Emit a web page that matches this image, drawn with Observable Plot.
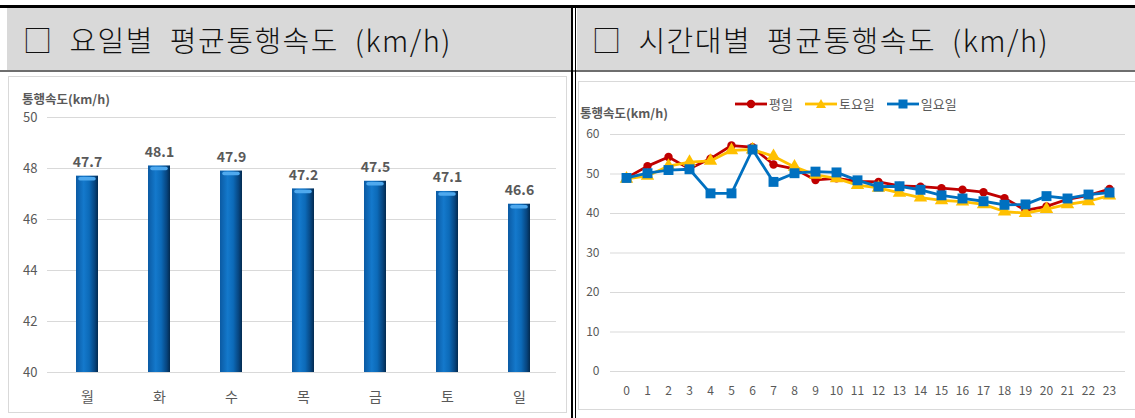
<!DOCTYPE html>
<html><head><meta charset="utf-8">
<script src="https://cdn.jsdelivr.net/npm/d3@7"></script>
<script src="https://cdn.jsdelivr.net/npm/@observablehq/plot@0.6"></script>
<style>
body{margin:0;background:#fff;width:1135px;height:418px;overflow:hidden;position:relative;font-family:"Noto Sans CJK KR","Noto Sans",sans-serif;}
.abs{position:absolute;}
.hdr{background:#d9d9d9;height:62px;top:8px;}
.htxt{position:absolute;top:8px;height:62px;line-height:62px;font-size:29px;font-weight:300;color:#111;letter-spacing:1.5px;word-spacing:8px;white-space:nowrap;}
.box{position:absolute;border:1px solid #d9d9d9;box-sizing:border-box;}
.ytitle{position:absolute;font-size:12.5px;line-height:13px;font-weight:bold;color:#595959;white-space:nowrap;}
.legend{position:absolute;top:94px;left:735px;font-size:13px;color:#595959;display:flex;align-items:center;white-space:nowrap;}
.legend span{display:inline-flex;align-items:center;margin-right:12px;}
</style></head><body>
<div class="abs" style="left:0;top:5px;width:1135px;height:3px;background:#000"></div>
<div class="abs hdr" style="left:7px;width:564px"></div>
<div class="abs hdr" style="left:577px;width:558px"></div>
<div class="abs" style="left:0;top:70px;width:1135px;height:2px;background:#6e6e6e"></div>
<div class="abs" style="left:571px;top:5px;width:2px;height:413px;background:#000"></div>
<div class="abs" style="left:575px;top:5px;width:1px;height:413px;background:#000"></div>
<div class="htxt" style="left:23px">□ 요일별 평균통행속도 (km/h)</div>
<div class="htxt" style="left:592px">□ 시간대별 평균통행속도 (km/h)</div>
<div class="box" style="left:8px;top:76px;width:559px;height:337px"></div>
<div class="box" style="left:578px;top:81px;width:560px;height:329px"></div>
<div class="ytitle" style="left:22px;top:92px">통행속도(km/h)</div>
<div class="ytitle" style="left:580px;top:106px">통행속도(km/h)</div>
<div id="legend" class="legend"></div>
<div id="bar" class="abs" style="left:9px;top:77px"></div>
<div id="line" class="abs" style="left:578px;top:82px"></div>
<script>
// ---- data ----
const days = ["월","화","수","목","금","토","일"];
const daySpeed = [47.7, 48.1, 47.9, 47.2, 47.5, 47.1, 46.6];
const barTicks = [40, 42, 44, 46, 48, 50];

const hours = [0,1,2,3,4,5,6,7,8,9,10,11,12,13,14,15,16,17,18,19,20,21,22,23];
const weekday  = [49.0,52.0,54.3,51.3,53.9,57.2,56.8,52.4,51.3,48.5,48.9,48.1,48.0,47.0,46.8,46.4,46.0,45.4,43.9,40.8,41.8,43.6,44.6,46.2];
const saturday = [48.8,49.5,52.0,53.0,53.3,56.0,56.2,54.5,51.8,49.8,48.9,47.2,46.5,45.2,44.0,43.3,43.0,42.3,40.5,40.1,41.1,42.3,43.1,44.5];
const sunday   = [49.0,50.2,51.0,51.2,45.1,45.1,56.2,48.0,50.2,50.6,50.4,48.4,46.8,46.9,46.0,44.6,43.8,43.1,42.2,42.3,44.4,43.8,44.8,45.3];
const seriesNames = ["평일","토요일","일요일"];
const seriesColors = ["#C00000","#FFC000","#0070C0"];
const seriesSymbols = ["circle","triangle","square"];
const lineTicks = [0,10,20,30,40,50,60];

const font = '"Noto Sans CJK KR","Noto Sans",sans-serif';

// ---- bar chart ----
const barData = days.map((d,i)=>({day:d, v:daySpeed[i]}));
const bar = Plot.plot({
  width:557, height:335, marginLeft:41, marginRight:10, marginTop:40, marginBottom:40,
  style:{fontFamily:font, fontSize:"13px", color:"#595959", background:"transparent", overflow:"visible"},
  x:{domain:days, paddingInner:0.695, paddingOuter:0.3475, label:null, tickSize:0, tickPadding:20},
  y:{domain:[40,50], ticks:barTicks, label:null, tickSize:0, tickPadding:13},
  marks:[
    Plot.ruleY(barTicks, {stroke:"#d9d9d9", insetLeft:-3}),
    Plot.barY(barData, {x:"day", y1:40, y2:"v", fill:"url(#barGrad)"}),
    Plot.tickY(barData, {x:"day", y:"v", stroke:"#4fa9ee", strokeWidth:3.5, dy:2.5, insetLeft:4, insetRight:4, strokeLinecap:"round"}),
    Plot.text(barData, {x:"day", y:"v", text:d=>d.v.toFixed(1), dy:-9, lineAnchor:"bottom", fontWeight:"bold", fill:"#595959", fontSize:14})
  ]
});
d3.select(bar).insert("defs", ":first-child").html(
  `<linearGradient id="barGrad" x1="0" x2="1" y1="0" y2="0">
     <stop offset="0" stop-color="#0b5aa3"/>
     <stop offset="0.35" stop-color="#1479cc"/>
     <stop offset="0.6" stop-color="#0c6ab8"/>
     <stop offset="0.85" stop-color="#07457f"/>
     <stop offset="1" stop-color="#032a4f"/>
   </linearGradient>`);
d3.select(bar).selectAll("g[aria-label='x-axis tick label'] text").attr("font-size", 14);
document.getElementById("bar").appendChild(bar);

// ---- line chart ----
const lineData = [];
const seriesVals = [weekday, saturday, sunday];
seriesNames.forEach((s,k)=>hours.forEach((h,i)=>lineData.push({hour:h, v:seriesVals[k][i], s})));
const radii = [4.2, 5, 5.6];
const lineMarks = [Plot.ruleY(lineTicks, {stroke:"#d9d9d9"})];
seriesNames.forEach((s,k)=>{
  const d = lineData.filter(o=>o.s===s);
  lineMarks.push(Plot.line(d, {x:"hour", y:"v", stroke:seriesColors[k], strokeWidth:2.8}));
  lineMarks.push(Plot.dot(d, {x:"hour", y:"v", fill:seriesColors[k], symbol:seriesSymbols[k], r:radii[k]}));
});
const line = Plot.plot({
  width:557, height:328, marginLeft:32, marginRight:10, marginTop:52, marginBottom:39,
  style:{fontFamily:font, fontSize:"12px", color:"#595959", background:"transparent", overflow:"visible"},
  x:{type:"point", domain:hours, padding:0.635, label:null, tickSize:0, tickPadding:15},
  y:{domain:[0,60], ticks:lineTicks, label:null, tickSize:0, tickPadding:11},
  marks:lineMarks
});
document.getElementById("line").appendChild(line);

// ---- legend ----
const lg = document.getElementById("legend");
seriesNames.forEach((s,k)=>{
  const c = seriesColors[k];
  let m;
  if (k===0) m = `<circle cx="16" cy="7" r="4.2" fill="${c}"/>`;
  else if (k===1) m = `<path d="M16,2 L21,11 L11,11 Z" fill="${c}"/>`;
  else m = `<rect x="11.5" y="2.5" width="9" height="9" fill="${c}"/>`;
  lg.insertAdjacentHTML("beforeend",
    `<span><svg width="32" height="14"><line x1="0" x2="32" y1="7" y2="7" stroke="${c}" stroke-width="2.8"/>${m}</svg><span style="margin:0 0 0 2px">${s}</span></span>`);
});
</script>
</body></html>
